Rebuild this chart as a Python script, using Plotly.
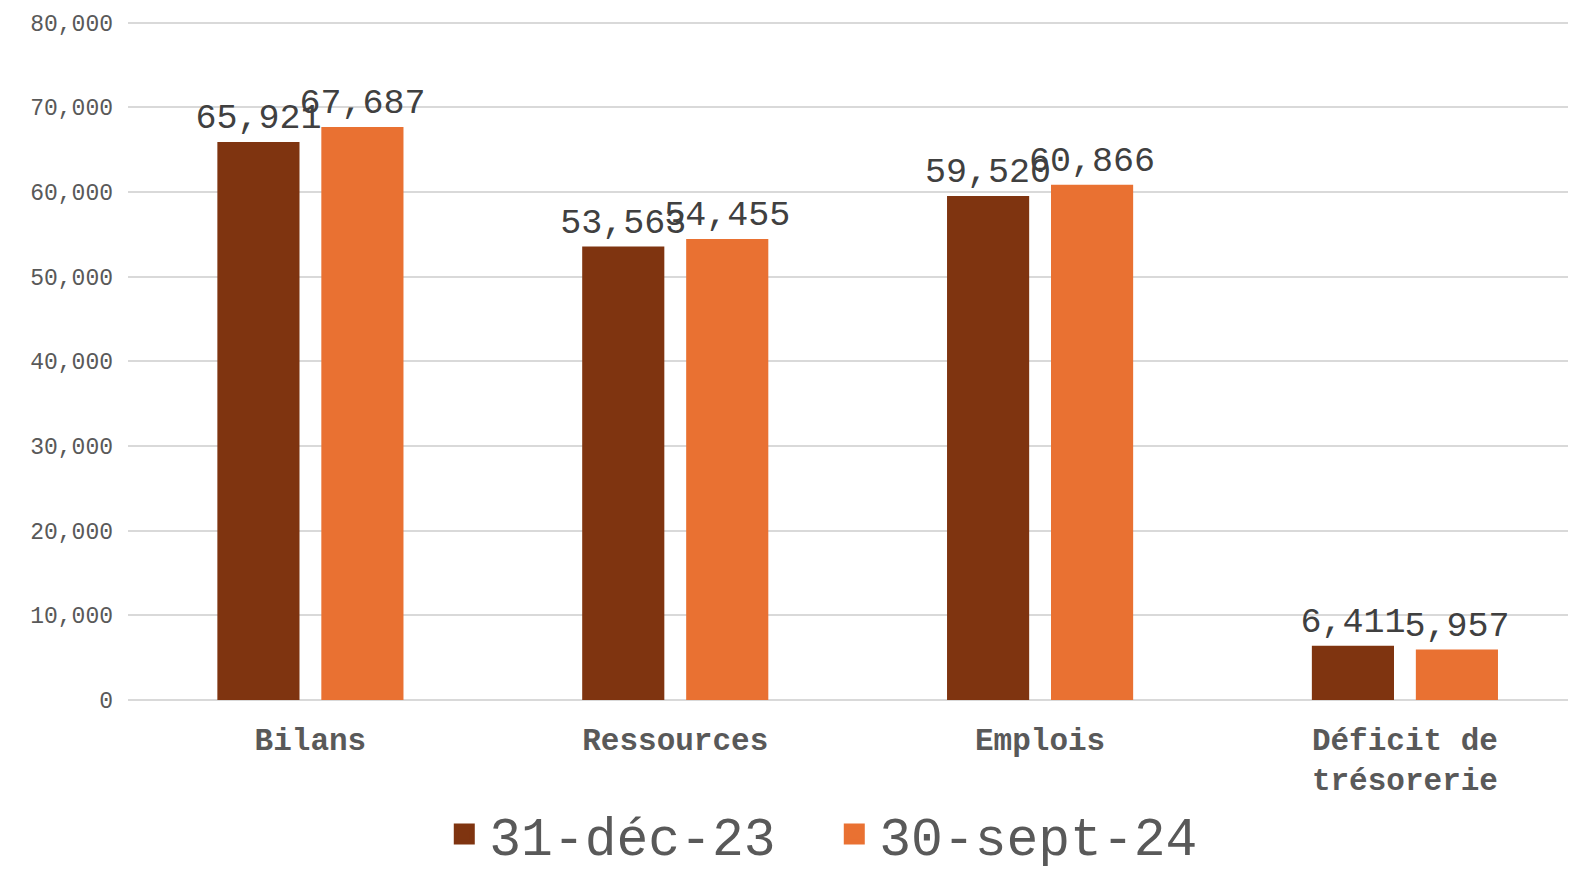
import plotly.graph_objects as go

categories = ["Bilans", "Ressources", "Emplois", "Déficit de<br>trésorerie"]
series_names = ["31-déc-23", "30-sept-24"]
values_dec23 = [65921, 53563, 59520, 6411]
values_sep24 = [67687, 54455, 60866, 5957]
colors = ["#7F3410", "#E97132"]

FONT = "Liberation Mono, Courier New, monospace"

fig = go.Figure()
for name, vals, col in zip(series_names, [values_dec23, values_sep24], colors):
    fig.add_trace(go.Bar(
        x=categories, y=vals, name=name, marker_color=col, marker_line_width=0,
        text=[f"{v:,}" for v in vals], textposition="outside",
        textfont=dict(family=FONT, size=35, color="#404040"),
        constraintext="none", cliponaxis=False, showlegend=False,
    ))
    fig.add_trace(go.Scatter(
        x=[None], y=[None], mode="markers", name=name,
        marker=dict(symbol="square", size=26, color=col, line=dict(color=col, width=10)),
    ))

fig.update_layout(
    width=1574, height=872,
    margin=dict(l=128, r=6, t=21.3, b=172, autoexpand=False),
    plot_bgcolor="white", paper_bgcolor="white",
    barmode="group", bargap=0.43, bargroupgap=0.21,
    font=dict(family=FONT, color="#595959"),
    legend=dict(orientation="h", x=0.487, xanchor="center", y=-0.1974, yanchor="middle",
                font=dict(family=FONT, size=53, color="#595959"), itemwidth=40,
                entrywidth=335, traceorder="normal"),
    xaxis=dict(range=[-0.5, 3.447], showgrid=False, showline=False, ticks="",
               automargin=False, ticklabelstandoff=18,
               tickfont=dict(family=FONT, size=31, color="#595959", weight="bold")),
    yaxis=dict(range=[0, 80200], dtick=10000, tickformat=",", showgrid=True,
               gridcolor="#D9D9D9", gridwidth=1.5, zeroline=True, zerolinecolor="#D9D9D9",
               zerolinewidth=1.5, showline=False, ticks="", ticklabelstandoff=14,
               automargin=False,
               tickfont=dict(family=FONT, size=23, color="#595959")),
)

fig.write_html(
    "out.html",
    config={"displayModeBar": False},
    post_script="document.documentElement.style.margin='0';document.body.style.margin='0';"
                "document.documentElement.style.overflow='hidden';document.body.style.overflow='hidden';",
)
